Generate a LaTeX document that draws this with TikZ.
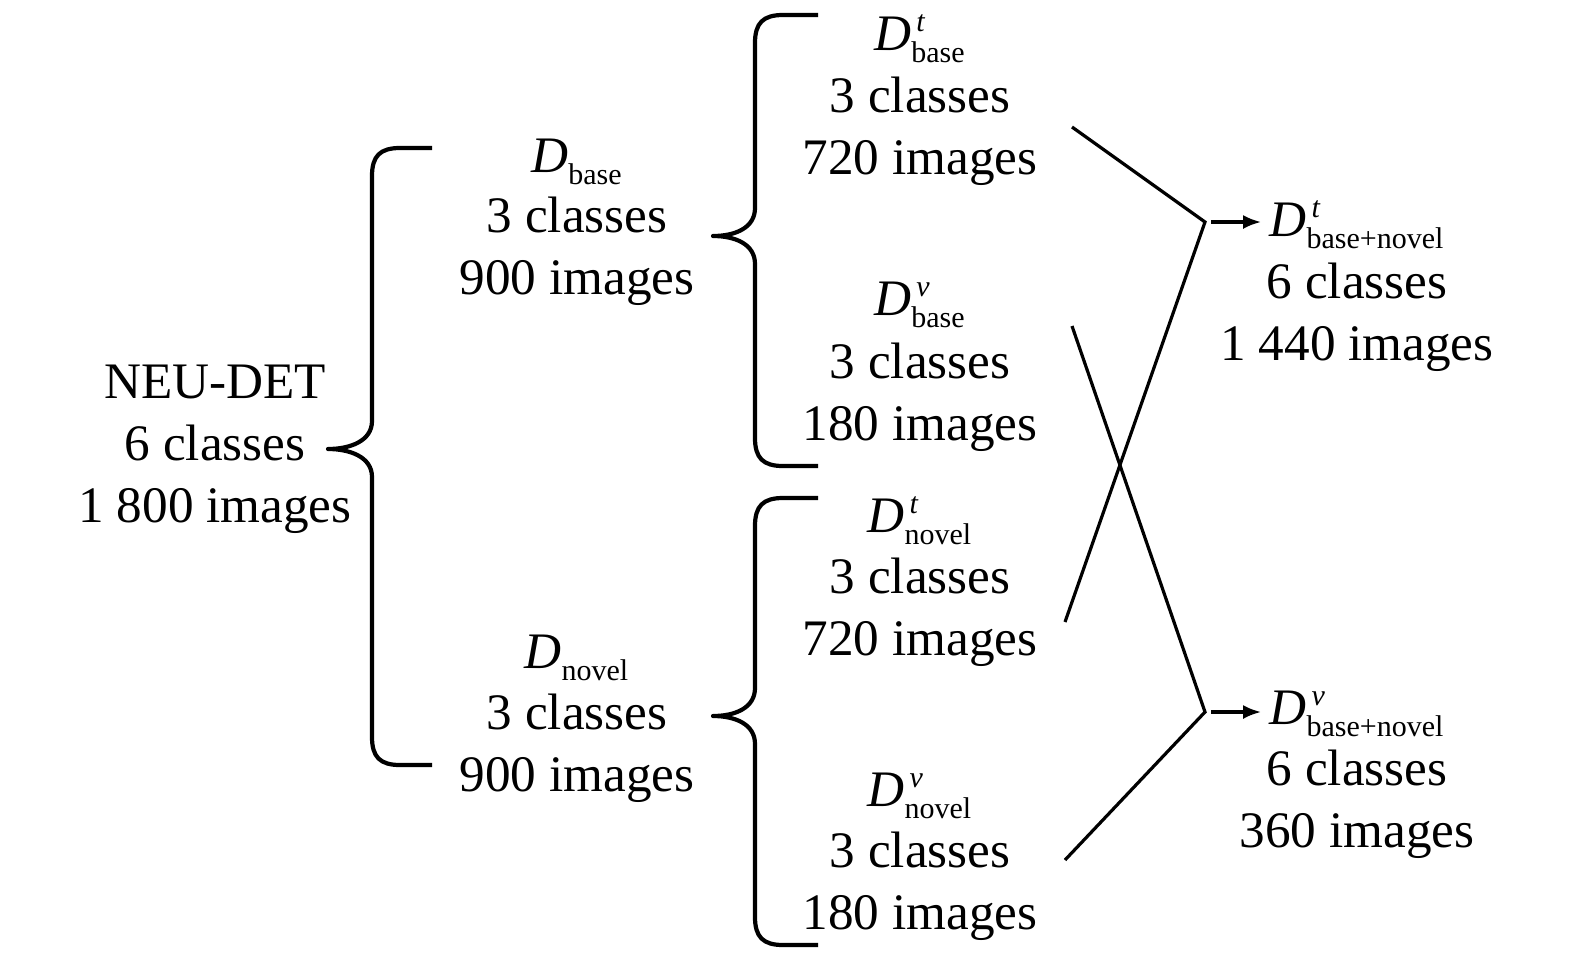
\documentclass[tikz,border=0pt]{standalone}
\usepackage{amsmath}
\usepackage{fontspec}
\setmainfont{Liberation Serif}
\usetikzlibrary{arrows.meta}
\DeclareMathSizes{25.6}{25.6}{15}{12}
\newcommand\mybrace[6]{%
  \draw[br] (#1,#3) -- ({#2+28},#3) .. controls ({#2+8},#3) and (#2,{#3+8}) .. (#2,{#3+28})
    -- (#2,{#4-28}) .. controls (#2,{#4-8}) and ({#6+22},#4) .. (#6,#4)
    .. controls ({#6+22},#4) and (#2,{#4+8}) .. (#2,{#4+28})
    -- (#2,{#5-28}) .. controls (#2,{#5-8}) and ({#2+8},#5) .. ({#2+28},#5) -- (#1,#5);}
\newcommand\DD[2]{{\itshape D}$^{\kern2.5pt\text{\itshape #1}}_{\text{#2}}$}
\begin{document}
\begin{tikzpicture}[x=0.5pt,y=-0.5pt,
  lbl/.style={anchor=base,inner sep=0pt,font=\fontsize{25.6}{31}\selectfont},
  br/.style={line width=2.1pt,line join=round},
  conn/.style={line width=1.6pt},
  arr/.style={line width=1.6pt,-{Latex[length=9pt,width=7pt]}}]
\useasboundingbox (0,0) rectangle (1575,965);
% column 1
\node[lbl] (n1) at (215,398) {NEU-DET};
\node[lbl] (n2) at (215,460) {6 classes};
\node[lbl] (n3) at (215,522) {1 800 images};
% column 2
\node[lbl] (b1) at (577,172) {\DD{}{base}};
\node[lbl] (b2) at (577,232) {3 classes};
\node[lbl] (b3) at (577,294) {900 images};
\node[lbl] (v1) at (577,668) {\DD{}{novel}};
\node[lbl] (v2) at (577,729) {3 classes};
\node[lbl] (v3) at (577,791) {900 images};
% column 3
\node[lbl] (bt1) at (920,50) {\DD{t}{base}};
\node[lbl] (bt2) at (920,112) {3 classes};
\node[lbl] (bt3) at (920,174) {720 images};
\node[lbl] (bv1) at (920,315) {\DD{v}{base}};
\node[lbl] (bv2) at (920,378) {3 classes};
\node[lbl] (bv3) at (920,440) {180 images};
\node[lbl] (nt1) at (920,532) {\DD{t}{novel}};
\node[lbl] (nt2) at (920,593) {3 classes};
\node[lbl] (nt3) at (920,655) {720 images};
\node[lbl] (nv1) at (920,806) {\DD{v}{novel}};
\node[lbl] (nv2) at (920,867) {3 classes};
\node[lbl] (nv3) at (920,929) {180 images};
% column 4
\node[lbl] (ft1) at (1357,236) {\DD{t}{base+novel}};
\node[lbl] (ft2) at (1357,298) {6 classes};
\node[lbl] (ft3) at (1357,360) {1 440 images};
\node[lbl] (fv1) at (1357,724) {\DD{v}{base+novel}};
\node[lbl] (fv2) at (1357,785) {6 classes};
\node[lbl] (fv3) at (1357,847) {360 images};
% braces
\mybrace{432}{372}{148}{449}{765}{328}
\mybrace{818}{755}{15}{236}{466}{713}
\mybrace{818}{755}{498}{716}{945}{713}
% connectors
\coordinate (J1) at (1205,222);
\coordinate (J2) at (1205,712);
\coordinate (s1) at (1072,127);
\coordinate (s2) at (1072,326);
\coordinate (s3) at (1065,622);
\coordinate (s4) at (1065,860);
\draw[conn] (s1) -- (J1) -- (s3);
\draw[conn] (s2) -- (J2) -- (s4);
\draw[arr] ([xshift=3pt]J1) -- ([xshift=-4pt]J1 -| ft1.west);
\draw[arr] ([xshift=3pt]J2) -- ([xshift=-4pt]J2 -| fv1.west);
\end{tikzpicture}
\end{document}
